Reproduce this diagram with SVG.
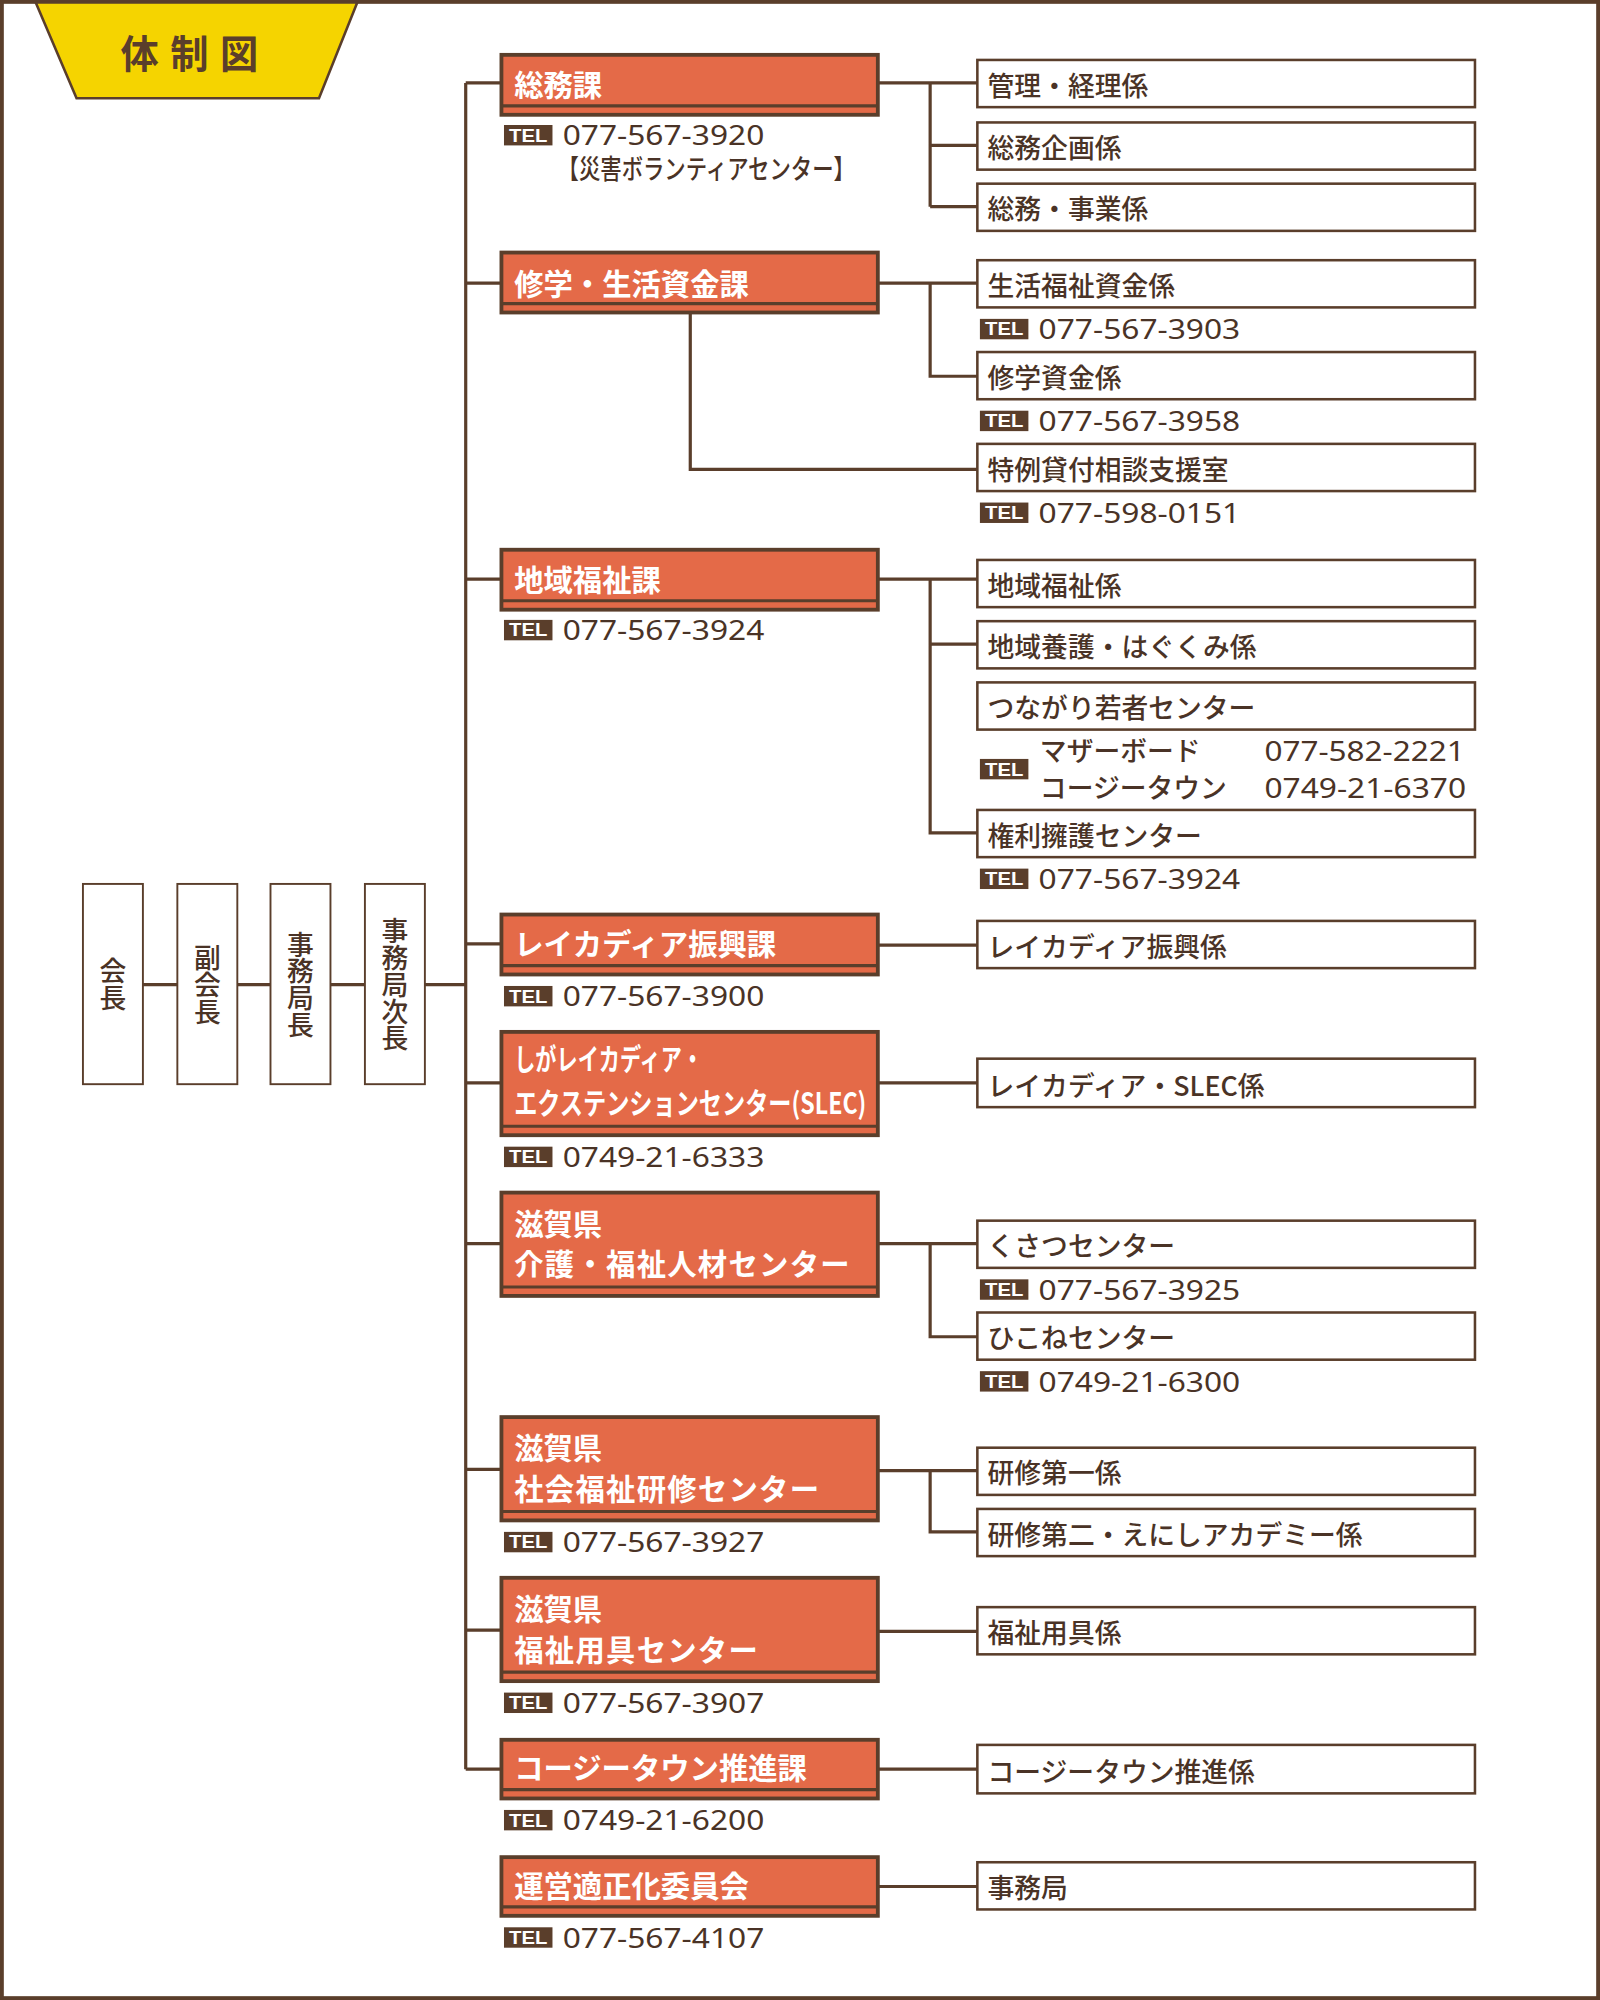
<svg xmlns="http://www.w3.org/2000/svg" width="1600" height="2000" viewBox="0 0 1600 2000">
<style>
.br{fill:none;stroke:#5a3e2b;stroke-width:2.5}
.dep{fill:#e46a48;stroke:#5a3e2b;stroke-width:3}
.sub{fill:#fff;stroke:#5a3e2b;stroke-width:2}
.vb{fill:#fff;stroke:#5a3e2b;stroke-width:1.5}
.dt{font-family:"Noto Sans CJK JP","Noto Sans",sans-serif;font-size:23px;font-weight:bold;fill:#fff}
.st{font-family:"Noto Sans CJK JP","Noto Sans",sans-serif;font-size:21px;font-weight:500;fill:#4a3326}
.tel{font-family:"Noto Sans","Noto Sans CJK JP",sans-serif;font-size:21px;fill:#4a3326}
.tb{fill:#5a3e2b}
.tt{font-family:"Liberation Sans",sans-serif;font-size:14px;font-weight:bold;fill:#fff}
</style>
<defs>
<g id="telb"><rect class="tb" x="0" y="-8" width="38" height="16"/><text class="tt" x="19" y="5" text-anchor="middle" textLength="30" lengthAdjust="spacingAndGlyphs">TEL</text></g>
</defs>
<rect x="0" y="0" width="1600" height="2000" fill="#fff"/>
<g transform="scale(1.27592,1.27551)">
<rect x="1.5" y="1.5" width="1251" height="1565" fill="none" stroke="#5a3e2b" stroke-width="3"/>
<g id="title">
<polygon points="28,2 280,2 250,77 60,77" fill="#f5d400" stroke="#5a3e2b" stroke-width="2"/>
<text x="153" y="53" text-anchor="middle" font-family="Noto Sans CJK JP,sans-serif" font-size="30" font-weight="bold" fill="#5a3e2b" letter-spacing="9">体制図</text>
</g>
<g id="connectors" class="br">
<path d="M112,772H139M186,772H212M259,772H286M333,772H365"/>
<path d="M365,65V1387"/>
<path d="M365,65H393M365,222H393M365,454H393M365,740H393M365,849H393M365,975H393M365,1152H393M365,1278H393M365,1387H393"/>
<path d="M688,65H729M729,65V162M729,65H766M729,114H766M729,162H766"/>
<path d="M688,222H766M729,222V295H766M541,245V368H766"/>
<path d="M688,454H766M729,454V653H766M729,505H766"/>
<path d="M688,741H766M688,849H766"/>
<path d="M688,975H766M729,975V1048H766"/>
<path d="M688,1153H766M729,1153V1201H766"/>
<path d="M688,1279H766M688,1387H766M688,1479H766"/>
</g>
<g id="officers">
<rect class="vb" x="65" y="693" width="47" height="157"/><text class="st" x="88.5" y="772" text-anchor="middle" writing-mode="tb">会長</text>
<rect class="vb" x="139" y="693" width="47" height="157"/><text class="st" x="162.5" y="772" text-anchor="middle" writing-mode="tb">副会長</text>
<rect class="vb" x="212" y="693" width="47" height="157"/><text class="st" x="235.5" y="772" text-anchor="middle" writing-mode="tb">事務局長</text>
<rect class="vb" x="286" y="693" width="47" height="157"/><text class="st" x="309.5" y="772" text-anchor="middle" writing-mode="tb">事務局次長</text>
</g>
<g id="depts">
<g id="d1"><rect class="dep" x="393" y="43" width="295" height="47"/><path class="br" d="M393,83H688" stroke-width="2"/><text class="dt" x="403" y="75">総務課</text>
<use href="#telb" x="395" y="106"/><text class="tel" x="441" y="114" textLength="158" lengthAdjust="spacingAndGlyphs">077-567-3920</text><text class="st" x="437" y="140" font-size="14" textLength="233" lengthAdjust="spacingAndGlyphs">【災害ボランティアセンター】</text></g>
<g id="d2"><rect class="dep" x="393" y="198" width="295" height="47"/><path class="br" d="M393,238H688" stroke-width="2"/><text class="dt" x="403" y="231">修学・生活資金課</text></g>
<g id="d3"><rect class="dep" x="393" y="431" width="295" height="47"/><path class="br" d="M393,471H688" stroke-width="2"/><text class="dt" x="403" y="463">地域福祉課</text>
<use href="#telb" x="395" y="494"/><text class="tel" x="441" y="502" textLength="158" lengthAdjust="spacingAndGlyphs">077-567-3924</text></g>
<g id="d4"><rect class="dep" x="393" y="717" width="295" height="47"/><path class="br" d="M393,757H688" stroke-width="2"/><text class="dt" x="403" y="749">レイカディア振興課</text>
<use href="#telb" x="395" y="781"/><text class="tel" x="441" y="789" textLength="158" lengthAdjust="spacingAndGlyphs">077-567-3900</text></g>
<g id="d5"><rect class="dep" x="393" y="809" width="295" height="81"/><path class="br" d="M393,883H688" stroke-width="2"/><text class="dt" x="403" y="839" font-size="19" font-weight="500" textLength="148" lengthAdjust="spacingAndGlyphs">しがレイカディア・</text><text class="dt" x="403" y="873" font-size="19" font-weight="500" textLength="276" lengthAdjust="spacingAndGlyphs">エクステンションセンター(SLEC)</text>
<use href="#telb" x="395" y="907"/><text class="tel" x="441" y="915" textLength="158" lengthAdjust="spacingAndGlyphs">0749-21-6333</text></g>
<g id="d6"><rect class="dep" x="393" y="935" width="295" height="81"/><path class="br" d="M393,1009H688" stroke-width="2"/><text class="dt" x="403" y="968">滋賀県</text><text class="dt" x="403" y="1000" letter-spacing="1">介護・福祉人材センター</text></g>
<g id="d7"><rect class="dep" x="393" y="1111" width="295" height="81"/><path class="br" d="M393,1185H688" stroke-width="2"/><text class="dt" x="403" y="1144">滋賀県</text><text class="dt" x="403" y="1176" letter-spacing="1">社会福祉研修センター</text>
<use href="#telb" x="395" y="1209"/><text class="tel" x="441" y="1217" textLength="158" lengthAdjust="spacingAndGlyphs">077-567-3927</text></g>
<g id="d8"><rect class="dep" x="393" y="1237" width="295" height="81"/><path class="br" d="M393,1311H688" stroke-width="2"/><text class="dt" x="403" y="1270">滋賀県</text><text class="dt" x="403" y="1302" letter-spacing="1">福祉用具センター</text>
<use href="#telb" x="395" y="1335"/><text class="tel" x="441" y="1343" textLength="158" lengthAdjust="spacingAndGlyphs">077-567-3907</text></g>
<g id="d9"><rect class="dep" x="393" y="1364" width="295" height="46"/><path class="br" d="M393,1403H688" stroke-width="2"/><text class="dt" x="403" y="1395">コージータウン推進課</text>
<use href="#telb" x="395" y="1427"/><text class="tel" x="441" y="1435" textLength="158" lengthAdjust="spacingAndGlyphs">0749-21-6200</text></g>
<g id="d10"><rect class="dep" x="393" y="1456" width="295" height="46"/><path class="br" d="M393,1495H688" stroke-width="2"/><text class="dt" x="403" y="1487">運営適正化委員会</text>
<use href="#telb" x="395" y="1519"/><text class="tel" x="441" y="1527" textLength="158" lengthAdjust="spacingAndGlyphs">077-567-4107</text></g>
</g>
<g id="sections">
<g><rect class="sub" x="766" y="47" width="390" height="37"/><text class="st" x="774" y="75">管理・経理係</text></g>
<g><rect class="sub" x="766" y="96" width="390" height="37"/><text class="st" x="774" y="124">総務企画係</text></g>
<g><rect class="sub" x="766" y="144" width="390" height="37"/><text class="st" x="774" y="172">総務・事業係</text></g>
<g><rect class="sub" x="766" y="204" width="390" height="37"/><text class="st" x="774" y="232">生活福祉資金係</text><use href="#telb" x="768" y="258"/><text class="tel" x="814" y="266" textLength="158" lengthAdjust="spacingAndGlyphs">077-567-3903</text></g>
<g><rect class="sub" x="766" y="276" width="390" height="37"/><text class="st" x="774" y="304">修学資金係</text><use href="#telb" x="768" y="330"/><text class="tel" x="814" y="338" textLength="158" lengthAdjust="spacingAndGlyphs">077-567-3958</text></g>
<g><rect class="sub" x="766" y="348" width="390" height="37"/><text class="st" x="774" y="376">特例貸付相談支援室</text><use href="#telb" x="768" y="402"/><text class="tel" x="814" y="410" textLength="158" lengthAdjust="spacingAndGlyphs">077-598-0151</text></g>
<g><rect class="sub" x="766" y="439" width="390" height="37"/><text class="st" x="774" y="467">地域福祉係</text></g>
<g><rect class="sub" x="766" y="487" width="390" height="37"/><text class="st" x="774" y="515">地域養護・はぐくみ係</text></g>
<g><rect class="sub" x="766" y="535" width="390" height="37"/><text class="st" x="774" y="563">つながり若者センター</text><use href="#telb" x="768" y="603"/>
<text class="st" x="815" y="597" font-size="20">マザーボード</text><text class="tel" x="991" y="597" font-size="20" textLength="157" lengthAdjust="spacingAndGlyphs">077-582-2221</text>
<text class="st" x="815" y="626" font-size="20">コージータウン</text><text class="tel" x="991" y="626" font-size="20" textLength="158" lengthAdjust="spacingAndGlyphs">0749-21-6370</text></g>
<g><rect class="sub" x="766" y="635" width="390" height="37"/><text class="st" x="774" y="663">権利擁護センター</text><use href="#telb" x="768" y="689"/><text class="tel" x="814" y="697" textLength="158" lengthAdjust="spacingAndGlyphs">077-567-3924</text></g>
<g><rect class="sub" x="766" y="722" width="390" height="37"/><text class="st" x="774" y="750">レイカディア振興係</text></g>
<g><rect class="sub" x="766" y="830" width="390" height="38"/><text class="st" x="774" y="859">レイカディア・SLEC係</text></g>
<g><rect class="sub" x="766" y="957" width="390" height="37"/><text class="st" x="774" y="985">くさつセンター</text><use href="#telb" x="768" y="1011"/><text class="tel" x="814" y="1019" textLength="158" lengthAdjust="spacingAndGlyphs">077-567-3925</text></g>
<g><rect class="sub" x="766" y="1029" width="390" height="37"/><text class="st" x="774" y="1057">ひこねセンター</text><use href="#telb" x="768" y="1083"/><text class="tel" x="814" y="1091" textLength="158" lengthAdjust="spacingAndGlyphs">0749-21-6300</text></g>
<g><rect class="sub" x="766" y="1135" width="390" height="37"/><text class="st" x="774" y="1163">研修第一係</text></g>
<g><rect class="sub" x="766" y="1183" width="390" height="37"/><text class="st" x="774" y="1211">研修第二・えにしアカデミー係</text></g>
<g><rect class="sub" x="766" y="1260" width="390" height="37"/><text class="st" x="774" y="1288">福祉用具係</text></g>
<g><rect class="sub" x="766" y="1368" width="390" height="38"/><text class="st" x="774" y="1397">コージータウン推進係</text></g>
<g><rect class="sub" x="766" y="1460" width="390" height="37"/><text class="st" x="774" y="1488">事務局</text></g>
</g>
</g>
</svg>
